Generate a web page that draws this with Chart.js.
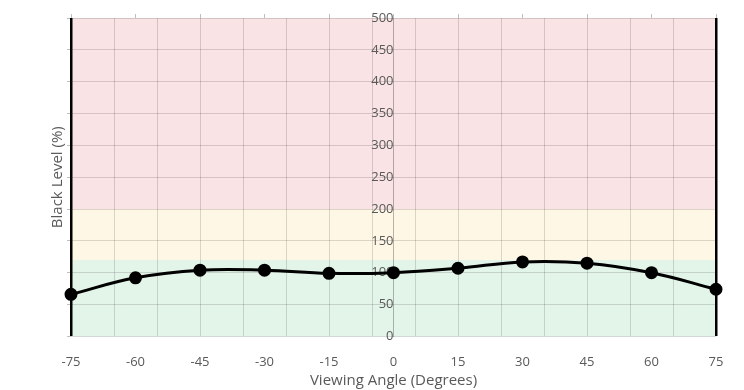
<!DOCTYPE html>
<html>
<head>
<meta charset="utf-8">
<script src="https://cdn.jsdelivr.net/npm/chart.js@4"></script>
<style>
    html, body { margin: 0; padding: 0; background: #fff; }
    #wrap { width: 744px; height: 390px; }
</style>
</head>
<body>
<div id="wrap"><canvas id="chart"></canvas></div>
<script>
// Values
const angles = [-75, -60, -45, -30, -15, 0, 15, 30, 45, 60, 75];
const blackLevel = [66, 92, 104, 104, 99, 100, 107, 117, 115, 100, 74];
const angleTicks = [-75, -60, -45, -30, -15, 0, 15, 30, 45, 60, 75];
const gridAngles = [-75, -65, -55, -45, -35, -25, -15, -5, 5, 15, 25, 35, 45, 55, 65, 75];
const levelTicks = [0, 50, 100, 150, 200, 250, 300, 350, 400, 450, 500];
const bandEdges = [0, 120, 200, 500];
const bandColors = ['#e3f4e9', '#fff7e6', '#f9e3e4'];

const textColor = '#595959';
const gridColor = 'rgba(0, 0, 0, 0.14)';

// colour zones behind the grid
const bands = {
    id: 'bands',
    beforeDraw(chart) {
        const { ctx, chartArea } = chart;
        const y = chart.scales.y;
        ctx.save();
        for (let i = 0; i < bandColors.length; i++) {
            const top = y.getPixelForValue(bandEdges[i + 1]);
            const bottom = y.getPixelForValue(bandEdges[i]);
            ctx.fillStyle = bandColors[i];
            ctx.fillRect(chartArea.left, top, chartArea.right - chartArea.left, bottom - top);
        }
        ctx.restore();
    }
};

const fixedTicks = values => axis => { axis.ticks = values.map(v => ({ value: v })); };

new Chart(document.getElementById('chart'), {
    type: 'line',
    data: {
        datasets: [{
            data: angles.map((a, i) => ({ x: a, y: blackLevel[i] })),
            borderColor: '#000',
            backgroundColor: '#000',
            borderWidth: 3,
            pointRadius: 5,
            pointHoverRadius: 5,
            tension: 0.4,
            clip: false
        }]
    },
    options: {
        responsive: true,
        maintainAspectRatio: false,
        animation: false,
        layout: { padding: { left: 49, right: 28, top: 14, bottom: 0 } },
        plugins: { legend: { display: false }, tooltip: { enabled: false } },
        font: { family: '"Open Sans", sans-serif' },
        scales: {
            x: {
                type: 'linear',
                position: 'bottom',
                min: -75, max: 75,
                afterBuildTicks: fixedTicks(angleTicks),
                // invisible tick marks only push the labels down
                grid: { drawOnChartArea: false, tickLength: 16, color: 'rgba(0,0,0,0)' },
                border: { display: false },
                ticks: { color: textColor, font: { size: 13 }, padding: 2 },
                title: {
                    display: true,
                    text: 'Viewing Angle (Degrees)',
                    color: textColor,
                    font: { size: 15 },
                    padding: { top: 0, bottom: 0 }
                }
            },
            xGrid: {
                type: 'linear',
                position: 'bottom',
                min: -75, max: 75,
                afterBuildTicks: fixedTicks(gridAngles),
                ticks: { display: false },
                border: { display: false },
                grid: {
                    drawTicks: false,
                    color: ctx => Math.abs(ctx.tick.value) === 75 ? '#000' : gridColor,
                    lineWidth: ctx => Math.abs(ctx.tick.value) === 75 ? 2.5 : 1
                }
            },
            xTop: {
                type: 'linear',
                position: 'top',
                min: -75, max: 75,
                afterBuildTicks: fixedTicks(angleTicks),
                ticks: { display: false },
                border: { display: false },
                grid: { drawOnChartArea: false, tickLength: 4, color: 'rgba(0,0,0,0.25)' }
            },
            y: {
                type: 'linear',
                position: { x: 0 },
                min: 0, max: 500,
                afterBuildTicks: fixedTicks(levelTicks),
                grid: { color: gridColor, tickColor: 'rgba(0,0,0,0)', tickLength: 12 },
                border: { color: 'rgba(0,0,0,0.28)' },
                ticks: { color: textColor, font: { size: 13 }, padding: 2 }
            },
            yLeft: {
                type: 'linear',
                position: 'left',
                min: 0, max: 500,
                afterBuildTicks: fixedTicks(levelTicks),
                ticks: { display: false },
                border: { display: false },
                grid: { drawOnChartArea: false, tickLength: 4, color: 'rgba(0,0,0,0.25)' },
                title: {
                    display: true,
                    text: 'Black Level (%)',
                    color: textColor,
                    font: { size: 15 },
                    padding: { top: 0, bottom: 0 }
                }
            }
        }
    },
    plugins: [bands]
});
</script>
</body>
</html>
